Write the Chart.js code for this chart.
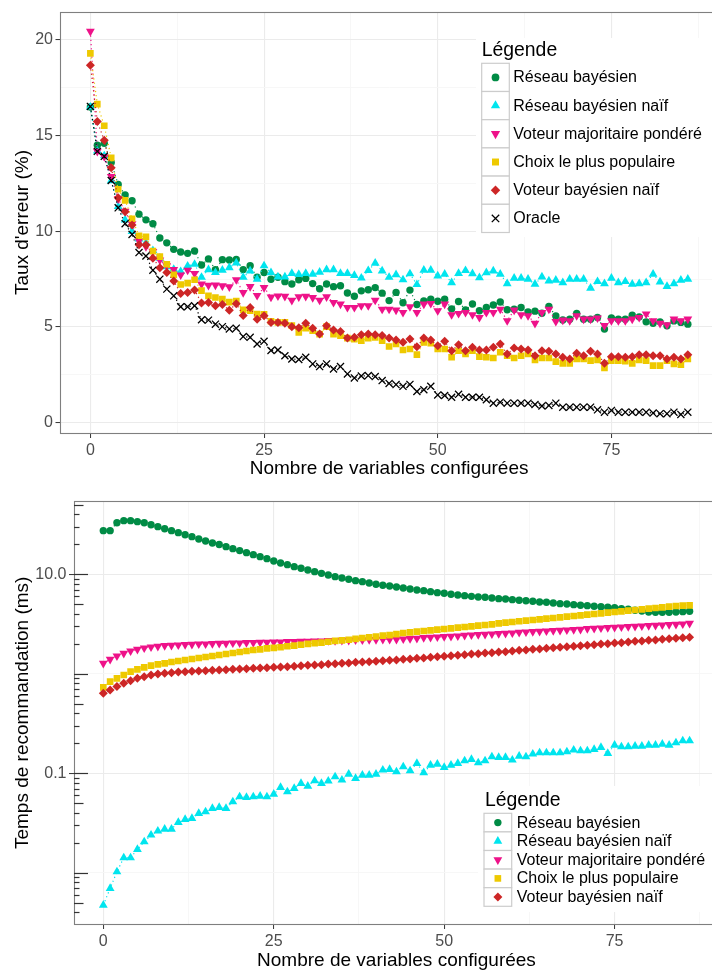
<!DOCTYPE html>
<html><head><meta charset="utf-8">
<script src="https://cdn.jsdelivr.net/npm/chart.js@4.4.1/dist/chart.umd.min.js"></script>
<style>
html,body{margin:0;padding:0;overflow:hidden;background:#fff;width:712px;height:972px;position:relative;}
#c1{position:absolute;left:0;top:0;}
#c2{position:absolute;left:0;top:485px;}
</style></head><body>
<canvas id="c1" width="724" height="485"></canvas>
<canvas id="c2" width="724" height="490"></canvas>
<script>
// ---------- data ----------
const variables = [0,1,2,3,4,5,6,7,8,9,10,11,12,13,14,15,16,17,18,19,20,21,22,23,24,25,26,27,28,29,30,31,32,33,34,35,36,37,38,39,40,41,42,43,44,45,46,47,48,49,50,51,52,53,54,55,56,57,58,59,60,61,62,63,64,65,66,67,68,69,70,71,72,73,74,75,76,77,78,79,80,81,82,83,84,85,86];
const seriesNames = ['Réseau bayésien','Réseau bayésien naïf','Voteur majoritaire pondéré','Choix le plus populaire','Voteur bayésien naïf','Oracle'];
const legendTitle = 'Légende';
const xTitle = 'Nombre de variables configurées';
const errTitle = "Taux d'erreur (%)";
const tempsTitle = 'Temps de recommandation (ms)';
const xTickLabels = [0,25,50,75];
const xMinorGrid = [12.5,37.5,62.5,87.5];
const errTickLabels = [0,5,10,15,20];
const errMinorGrid = [2.5,7.5,12.5,17.5];
const tempsTickLabels = [0.1,10];
const tempsMinorGrid = [0.01,1];

const errReseauBayesien = [16.5,14.5,14.6,13.6,12.45,11.9,11.6,10.9,10.6,10.4,9.65,9.4,9.06,8.92,8.85,8.97,8.24,8.56,8.0,8.52,8.5,8.53,8.0,8.2,7.6,7.85,7.5,7.6,7.37,7.25,7.47,7.54,7.27,7.0,7.25,7.11,7.16,6.78,6.61,6.89,6.95,7.06,6.77,6.38,6.81,6.27,6.93,6.18,6.36,6.46,6.35,6.45,5.95,6.33,5.89,6.2,5.85,6.02,6.15,6.31,5.9,5.93,6.02,5.79,5.83,5.72,6.07,5.58,5.37,5.41,5.71,5.41,5.41,5.5,4.89,5.47,5.41,5.41,5.62,5.53,5.27,5.2,5.27,5.06,5.32,5.24,5.15];
const errReseauNaif = [16.5,14.2,13.95,12.65,11.3,10.6,10.0,9.6,9.4,9.0,8.6,8.15,8.02,7.9,8.19,8.28,7.6,8.0,7.85,7.97,8.1,8.35,7.6,7.93,7.5,8.2,7.84,7.62,7.62,7.8,7.75,7.8,7.76,7.87,8.0,8.0,7.8,7.8,7.7,7.56,7.95,8.34,7.93,7.6,7.74,7.47,7.78,7.22,7.97,7.97,7.67,7.76,7.32,7.8,7.95,7.79,7.58,7.84,7.93,7.76,7.27,7.55,7.55,7.5,7.24,7.62,7.41,7.45,7.32,7.5,7.5,7.5,7.03,7.38,7.27,7.55,7.32,7.38,7.24,7.27,7.32,7.76,7.36,7.12,7.27,7.45,7.5];
const errVoteurPondere = [20.45,14.18,13.9,12.87,11.7,11.05,10.4,9.5,9.2,8.95,8.5,8.2,8.0,7.72,7.97,7.8,7.24,7.18,7.19,7.15,7.1,7.47,6.8,7.11,6.65,7.06,6.56,6.62,6.6,6.39,6.58,6.6,6.54,6.4,6.58,6.28,6.2,6.02,6.02,6.11,6.11,6.4,5.93,5.93,5.88,5.76,6.06,5.76,6.2,6.23,5.85,6.2,5.64,5.71,5.76,5.64,5.5,5.76,5.76,5.93,5.33,5.88,5.64,5.59,5.19,5.76,5.93,5.29,5.36,5.33,5.59,5.41,5.41,5.47,5.07,5.33,5.33,5.33,5.41,5.5,5.68,5.33,5.19,5.12,5.41,5.33,5.41];
const errChoixPopulaire = [19.3,16.65,15.52,13.84,12.2,11.62,10.66,9.77,9.71,8.97,8.68,8.28,7.73,7.22,7.29,7.47,6.9,6.63,6.54,6.46,6.3,6.35,5.9,5.85,5.68,5.66,5.3,5.24,5.24,5.07,4.72,4.94,4.81,4.63,5.02,4.63,4.55,4.42,4.37,4.29,4.42,4.46,4.29,3.98,4.11,3.8,3.85,3.56,4.2,4.15,3.85,3.85,3.42,3.76,3.59,3.76,3.45,3.42,3.38,3.68,3.5,3.38,3.5,3.59,3.28,3.38,3.38,3.19,3.1,3.1,3.33,3.33,3.24,3.28,2.86,3.24,3.24,3.21,3.1,3.28,3.24,2.98,2.98,3.24,3.07,3.03,3.33];
const errVoteurNaif = [18.68,15.74,14.76,13.33,11.75,11.03,10.33,9.3,9.3,8.6,8.1,7.85,7.41,6.75,6.8,6.94,6.25,6.28,6.11,6.18,5.88,6.22,5.6,6.02,5.41,5.59,5.24,5.24,5.19,5.02,4.96,5.19,4.94,4.63,5.07,4.84,4.77,4.42,4.46,4.6,4.63,4.6,4.55,4.42,4.32,4.2,4.37,3.97,4.42,4.32,4.02,4.25,3.76,4.07,3.76,3.94,3.8,3.8,3.94,4.11,3.59,3.9,3.85,3.8,3.5,3.76,3.73,3.59,3.42,3.33,3.63,3.5,3.73,3.59,3.1,3.45,3.45,3.42,3.45,3.55,3.55,3.5,3.5,3.33,3.42,3.33,3.55];
const errOracle = [16.53,14.18,13.92,12.66,11.23,10.4,9.84,8.89,8.71,7.97,7.5,6.98,6.63,6.06,6.06,6.11,5.38,5.36,5.15,5.02,4.9,4.94,4.5,4.46,4.11,4.25,3.77,3.8,3.5,3.33,3.3,3.42,3.07,2.93,3.07,2.81,2.93,2.55,2.34,2.44,2.46,2.41,2.2,2.05,1.99,1.9,2.0,1.63,1.72,1.9,1.45,1.42,1.33,1.48,1.33,1.33,1.33,1.2,1.02,1.07,1.02,1.02,1.02,1.02,0.95,0.87,0.9,1.02,0.81,0.81,0.81,0.81,0.81,0.67,0.55,0.64,0.55,0.55,0.55,0.55,0.55,0.5,0.47,0.47,0.55,0.43,0.55];

const tempsReseauBayesien = [27.45,27.45,33.0,34.6,34.6,33.8,33.0,31.5,30.1,28.7,27.45,26.2,25.0,23.9,22.6,21.6,20.6,19.9,18.95,18.1,17.3,16.5,15.75,15.04,14.36,13.6,13.0,12.5,11.93,11.48,11.05,10.63,10.22,9.84,9.47,9.18,8.9,8.63,8.43,8.18,7.93,7.75,7.63,7.46,7.28,7.12,6.95,6.85,6.69,6.54,6.44,6.29,6.19,6.1,6.0,5.91,5.87,5.78,5.69,5.65,5.56,5.48,5.43,5.35,5.27,5.23,5.15,5.07,5.03,4.95,4.88,4.84,4.77,4.73,4.66,4.62,4.52,4.45,4.35,4.28,4.18,4.15,4.15,4.15,4.18,4.21,4.25];
const tempsReseauNaif = [0.00473,0.00697,0.01024,0.01416,0.01416,0.01717,0.0205,0.02393,0.02625,0.02749,0.02749,0.03208,0.03438,0.03519,0.0395,0.04106,0.04435,0.04538,0.04435,0.05175,0.05808,0.05719,0.05808,0.05898,0.05808,0.06177,0.07211,0.06523,0.07046,0.07909,0.07435,0.08414,0.07909,0.0835,0.09231,0.08545,0.09817,0.08881,0.09592,0.09592,0.09817,0.1077,0.1094,0.1036,0.1163,0.106,0.1257,0.1013,0.1209,0.1237,0.1146,0.1209,0.1257,0.1337,0.1378,0.1276,0.1337,0.1466,0.1443,0.1443,0.1358,0.1489,0.1466,0.156,0.1609,0.1609,0.1609,0.1609,0.1646,0.1711,0.1684,0.1684,0.1738,0.182,0.1584,0.192,0.1848,0.1848,0.1876,0.1876,0.192,0.192,0.1965,0.192,0.2027,0.2123,0.2123];
const tempsVoteurPondere = [1.274,1.397,1.51,1.606,1.695,1.762,1.817,1.86,1.888,1.918,1.933,1.948,1.963,1.978,1.993,1.993,2.008,2.024,2.024,2.04,2.04,2.055,2.055,2.071,2.071,2.087,2.087,2.103,2.103,2.12,2.12,2.136,2.136,2.153,2.153,2.169,2.169,2.186,2.186,2.203,2.203,2.22,2.22,2.22,2.238,2.255,2.272,2.308,2.325,2.343,2.362,2.38,2.399,2.436,2.455,2.474,2.493,2.512,2.531,2.551,2.571,2.61,2.631,2.651,2.672,2.692,2.713,2.734,2.755,2.777,2.798,2.842,2.864,2.886,2.909,2.931,2.954,2.977,3.0,3.023,3.047,3.07,3.094,3.118,3.142,3.166,3.216];
const tempsChoixPopulaire = [0.731,0.834,0.9,0.972,1.05,1.109,1.161,1.207,1.245,1.274,1.314,1.345,1.376,1.408,1.442,1.475,1.51,1.545,1.581,1.618,1.656,1.695,1.735,1.762,1.803,1.82,1.85,1.89,1.92,1.96,2.0,2.03,2.06,2.1,2.14,2.17,2.2,2.24,2.29,2.33,2.37,2.42,2.45,2.5,2.571,2.61,2.651,2.692,2.734,2.777,2.82,2.864,2.909,2.954,3.0,3.047,3.094,3.142,3.216,3.266,3.317,3.369,3.42,3.474,3.528,3.583,3.639,3.695,3.753,3.811,3.87,3.93,3.991,4.053,4.117,4.181,4.246,4.312,4.379,4.447,4.516,4.586,4.656,4.729,4.802,4.84,4.877];
const tempsVoteurNaif = [0.636,0.688,0.743,0.802,0.853,0.9,0.936,0.972,0.995,1.011,1.027,1.043,1.05,1.059,1.067,1.075,1.083,1.092,1.1,1.109,1.117,1.126,1.135,1.144,1.152,1.161,1.17,1.179,1.189,1.207,1.216,1.226,1.235,1.254,1.264,1.274,1.284,1.304,1.314,1.324,1.335,1.355,1.366,1.376,1.397,1.408,1.43,1.441,1.464,1.486,1.498,1.521,1.533,1.557,1.581,1.593,1.618,1.631,1.656,1.669,1.695,1.722,1.735,1.762,1.775,1.803,1.83,1.845,1.874,1.888,1.918,1.933,1.963,1.993,2.008,2.04,2.055,2.087,2.12,2.136,2.169,2.186,2.22,2.255,2.272,2.308,2.325];

// ---------- styles ----------
const FONT = "'Liberation Sans', Arial, Helvetica, sans-serif";
Chart.defaults.font.family = FONT;
Chart.defaults.color = '#4d4d4d';
const COLORS = ['#008B45','#00E5EE','#EE1289','#EEC900','#CD2626','#000000'];
const SHAPES = [
  {pointStyle:'circle',   radius:3.7, rotation:0,   bw:0},
  {pointStyle:'triangle', radius:5.1, rotation:0,   bw:0},
  {pointStyle:'triangle', radius:5.1, rotation:180, bw:0},
  {pointStyle:'rect',     radius:4.7, rotation:0,   bw:0},
  {pointStyle:'rectRot',  radius:4.5, rotation:0,   bw:0},
  {pointStyle:'crossRot', radius:5.0, rotation:0,   bw:1.3}
];

function buildDatasets(list) {
  return list.map((vals, k) => ({
    label: seriesNames[k],
    data: vals.map((v, i) => ({x: variables[i], y: v})),
    showLine: true,
    borderColor: COLORS[k],
    borderWidth: 1.2,
    borderDash: [1.2, 3],
    backgroundColor: COLORS[k],
    pointStyle: SHAPES[k].pointStyle,
    pointRadius: SHAPES[k].radius,
    pointHoverRadius: SHAPES[k].radius,
    pointRotation: SHAPES[k].rotation,
    pointBackgroundColor: COLORS[k],
    pointBorderColor: COLORS[k],
    pointBorderWidth: SHAPES[k].bw,
    order: 6 - k,
    tension: 0
  }));
}

const isIn = (arr, v) => arr.some(a => Math.abs(a - v) < 1e-9);

function gridOpts(majors) {
  return {
    color: c => isIn(majors, c.tick.value) ? '#ebebeb' : '#f6f6f6',
    lineWidth: c => isIn(majors, c.tick.value) ? 1.1 : 0.9,
    drawTicks: true,
    tickLength: 5,
    tickWidth: 1,
    tickColor: c => isIn(majors, c.tick.value) ? '#333333' : 'rgba(0,0,0,0)'
  };
}

function xScale(height, labelPad, titlePadBottom) {
  return {
    type: 'linear', min: -4.3, max: 90.3,
    afterBuildTicks: s => { s.ticks = xTickLabels.concat(xMinorGrid).sort((a,b)=>a-b).map(v => ({value: v})); },
    afterFit: s => { s.height = height; },
    border: {display: false},
    grid: gridOpts(xTickLabels),
    ticks: {autoSkip: false, maxRotation: 0, padding: labelPad, color: '#4d4d4d', font: {size: 16},
            callback: v => isIn(xTickLabels, v) ? String(v) : ''},
    title: {display: true, text: xTitle, color: '#000', font: {size: 19}, padding: {top: 0, bottom: titlePadBottom}}
  };
}

const panelBorder = {
  id: 'panelBorder',
  afterDatasetsDraw(chart) {
    const a = chart.chartArea, ctx = chart.ctx;
    ctx.save();
    ctx.strokeStyle = '#7f7f7f';
    ctx.lineWidth = 1.1;
    const l = Math.floor(a.left) + 0.5, t = Math.floor(a.top) + 0.5, b = Math.floor(a.bottom) + 0.5, r = Math.floor(a.right) + 0.5;
    ctx.strokeRect(l, t, r - l, b - t);
    ctx.restore();
  }
};

const logTicks = {
  id: 'logTicks',
  afterDatasetsDraw(chart) {
    const ys = chart.scales.y, ctx = chart.ctx, left = chart.chartArea.left;
    ctx.save();
    ctx.strokeStyle = '#333333';
    ctx.lineWidth = 1.2;
    for (let k = -3; k <= 1; k++) {
      for (let m = 1; m <= 9; m++) {
        const v = m * Math.pow(10, k);
        if (v < ys.min || v > ys.max) continue;
        const py = Math.round(ys.getPixelForValue(v)) + 0.5;
        const len = m === 1 ? 14 : (m === 5 ? 9.5 : 5.5);
        ctx.beginPath(); ctx.moveTo(left, py); ctx.lineTo(left + len, py); ctx.stroke();
      }
    }
    ctx.restore();
  }
};

function drawMarker(ctx, ds, x, y, scale) {
  const opts = {pointStyle: ds.pointStyle, rotation: ds.pointRotation, radius: ds.pointRadius * scale, borderWidth: ds.pointBorderWidth};
  ctx.fillStyle = ds.pointBackgroundColor;
  ctx.strokeStyle = ds.pointBorderColor;
  ctx.lineWidth = ds.pointBorderWidth;
  if (Chart.helpers && Chart.helpers.drawPoint) {
    Chart.helpers.drawPoint(ctx, opts, x, y);
  } else {
    ctx.beginPath(); ctx.arc(x, y, opts.radius, 0, Math.PI * 2); ctx.fill();
  }
}

function legendPlugin(cfg) {
  return {
    id: 'ggLegend',
    afterDraw(chart) {
      const ctx = chart.ctx;
      ctx.save();
      ctx.fillStyle = '#ffffff';
      ctx.fillRect(cfg.bgX, cfg.bgY, cfg.bgW, cfg.bgH);
      ctx.fillStyle = '#000';
      ctx.textAlign = 'left';
      ctx.textBaseline = 'middle';
      ctx.font = cfg.titleSize + 'px ' + FONT;
      ctx.fillText(legendTitle, cfg.titleX, cfg.titleY);
      const sets = chart.data.datasets;
      sets.forEach((ds, k) => {
        const y = cfg.keyY + k * cfg.keyH;
        ctx.fillStyle = '#ffffff';
        ctx.fillRect(cfg.keyX, y, cfg.keyW, cfg.keyH);
        ctx.strokeStyle = '#cccccc';
        ctx.lineWidth = 1.2;
        ctx.strokeRect(cfg.keyX, y, cfg.keyW, cfg.keyH);
        drawMarker(ctx, ds, cfg.keyX + cfg.keyW / 2, y + cfg.keyH / 2, cfg.markerScale);
        ctx.fillStyle = '#000';
        ctx.font = cfg.labelSize + 'px ' + FONT;
        ctx.textBaseline = 'middle';
        ctx.fillText(ds.label, cfg.labelX, y + cfg.keyH / 2 + 0.5);
      });
      ctx.restore();
    }
  };
}

// ---------- top chart ----------
new Chart(document.getElementById('c1'), {
  type: 'scatter',
  data: {datasets: buildDatasets([errReseauBayesien, errReseauNaif, errVoteurPondere, errChoixPopulaire, errVoteurNaif, errOracle])},
  options: {
    responsive: false, animation: false, events: [],
    layout: {padding: {left: 0, right: 2, top: 10, bottom: 0}},
    plugins: {legend: {display: false}, tooltip: {enabled: false}},
    scales: {
      x: xScale(52, 3, 4.5),
      y: {
        type: 'linear', min: -0.54, max: 21.46,
        afterBuildTicks: s => { s.ticks = errTickLabels.concat(errMinorGrid).sort((a,b)=>a-b).map(v => ({value: v})); },
        afterFit: s => { s.width = 60.5; },
        border: {display: false},
        grid: gridOpts(errTickLabels),
        ticks: {autoSkip: false, padding: 2.5, color: '#4d4d4d', font: {size: 16},
                callback: v => isIn(errTickLabels, v) ? String(v) : ''},
        title: {display: true, text: errTitle, color: '#000', font: {size: 19}, padding: {top: 11.5, bottom: 0}}
      }
    }
  },
  plugins: [panelBorder, legendPlugin({
    bgX: 476, bgY: 38, bgW: 260, bgH: 199,
    titleX: 481.7, titleY: 51, titleSize: 19.4,
    keyX: 481.7, keyY: 63.3, keyW: 27.6, keyH: 28.2,
    labelX: 513.3, labelSize: 16, markerScale: 1.05
  })]
});

// ---------- bottom chart ----------
new Chart(document.getElementById('c2'), {
  type: 'scatter',
  data: {datasets: buildDatasets([tempsReseauBayesien, tempsReseauNaif, tempsVoteurPondere, tempsChoixPopulaire, tempsVoteurNaif])},
  options: {
    responsive: false, animation: false, events: [],
    layout: {padding: {left: 0, right: 2, top: 16.7, bottom: 0}},
    plugins: {legend: {display: false}, tooltip: {enabled: false}},
    scales: {
      x: xScale(51, 3, 2.5),
      y: {
        type: 'logarithmic', min: 0.003056, max: 53.65,
        afterBuildTicks: s => { s.ticks = tempsMinorGrid.concat(tempsTickLabels).sort((a,b)=>a-b).map(v => ({value: v})); },
        afterFit: s => { s.width = 74; },
        border: {display: false},
        grid: gridOpts(tempsTickLabels),
        ticks: {autoSkip: false, padding: 2.5, color: '#4d4d4d', font: {size: 16},
                callback: v => isIn(tempsTickLabels, v) ? (v >= 1 ? v.toFixed(1) : String(v)) : ''},
        title: {display: true, text: tempsTitle, color: '#000', font: {size: 19}, padding: {top: 11.5, bottom: 0}}
      }
    }
  },
  plugins: [panelBorder, logTicks, legendPlugin({
    bgX: 478, bgY: 301, bgW: 260, bgH: 126,
    titleX: 485, titleY: 316, titleSize: 19.4,
    keyX: 484, keyY: 328.3, keyW: 27.7, keyH: 18.6,
    labelX: 516.7, labelSize: 16, markerScale: 1.0
  })]
});
</script>
</body></html>
